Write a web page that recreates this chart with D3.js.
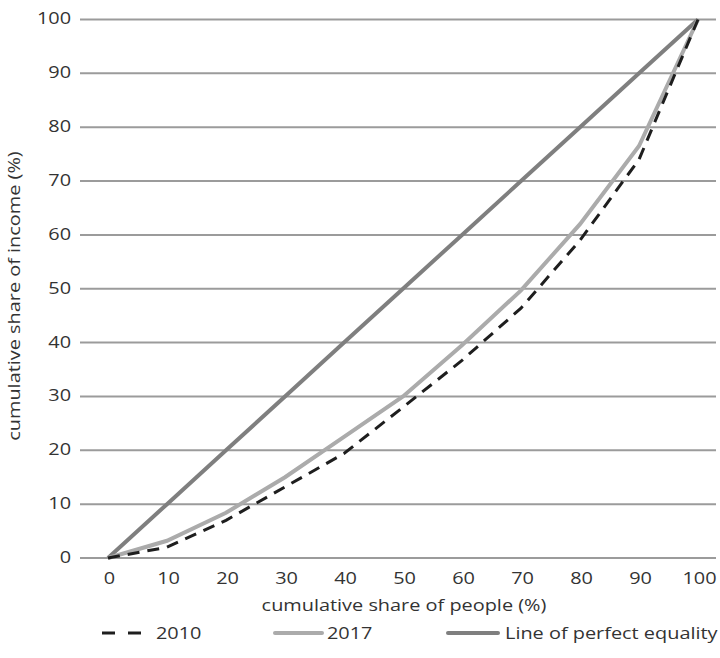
<!DOCTYPE html>
<html><head><meta charset="utf-8">
<script src="https://cdn.jsdelivr.net/npm/d3@7"></script>
<style>body{margin:0;background:#fff;} text{font-family:"Open Sans",sans-serif;fill:#333;font-weight:400;}</style>
</head><body><svg id="c" width="720" height="658"></svg>
<script>
const xValues = [0,10,20,30,40,50,60,70,80,90,100];
const s2010 = [0,2,7,13.2,19.4,28,36.7,46.4,59,74,100];
const s2017 = [0,3.2,8.4,15,22.5,30,39.5,49.7,62,76.5,100];
const sEqual = [0,10,20,30,40,50,60,70,80,90,100];
const yTicks = [0,10,20,30,40,50,60,70,80,90,100];
const xTicks = [0,10,20,30,40,50,60,70,80,90,100];
const seriesNames = ["2010","2017","Line of perfect equality"];

const FS = 17, SX = 1.17;
const svg = d3.select("#c");
const x = d3.scaleLinear().domain([0,100]).range([108,698]);
const y = d3.scaleLinear().domain([0,100]).range([558,19.5]);

function stext(g, px, py, str, anchor, rot) {
  return g.append("text")
    .attr("transform", `translate(${px},${py})` + (rot ? ` rotate(${rot})` : "") + ` scale(${SX},1)`)
    .attr("text-anchor", anchor).attr("dy","0.35em").attr("font-size", FS).text(str);
}

svg.append("g").selectAll("line").data(yTicks).join("line")
  .attr("x1",80).attr("x2",716).attr("y1",d=>y(d)).attr("y2",d=>y(d))
  .attr("stroke","#9b9b9b").attr("stroke-width",2);
const gy = svg.append("g");
yTicks.forEach(d => stext(gy, 71, y(d)-1, d, "end"));
const gx = svg.append("g");
xTicks.forEach(d => stext(gx, x(d)+1.5, 578, d, "middle"));

stext(svg, 404, 605, "cumulative share of people (%)", "middle");
stext(svg, 14, 296, "cumulative share of income (%)", "middle", -90);

const line = d3.line().x((d,i)=>x(xValues[i])).y(d=>y(d));
svg.append("path").attr("d",line(sEqual)).attr("fill","none").attr("stroke","#7f7f7f").attr("stroke-width",4).attr("stroke-linejoin","round");
svg.append("path").attr("d",line(s2017)).attr("fill","none").attr("stroke","#ababab").attr("stroke-width",4);
svg.append("path").attr("d",line(s2010)).attr("fill","none").attr("stroke","#1e1e1e").attr("stroke-width",3).attr("stroke-dasharray","12,8");

const ly = 633;
const lg = svg.append("g");
lg.append("line").attr("x1",102).attr("x2",142).attr("y1",ly).attr("y2",ly).attr("stroke","#1e1e1e").attr("stroke-width",3).attr("stroke-dasharray","13,13");
stext(lg, 156, ly, seriesNames[0], "start");
lg.append("line").attr("x1",275).attr("x2",322).attr("y1",ly).attr("y2",ly).attr("stroke","#ababab").attr("stroke-width",4).attr("stroke-linecap","round");
stext(lg, 327, ly, seriesNames[1], "start");
lg.append("line").attr("x1",448).attr("x2",498).attr("y1",ly).attr("y2",ly).attr("stroke","#7f7f7f").attr("stroke-width",4).attr("stroke-linecap","round");
stext(lg, 505, ly, seriesNames[2], "start");
</script></body></html>
